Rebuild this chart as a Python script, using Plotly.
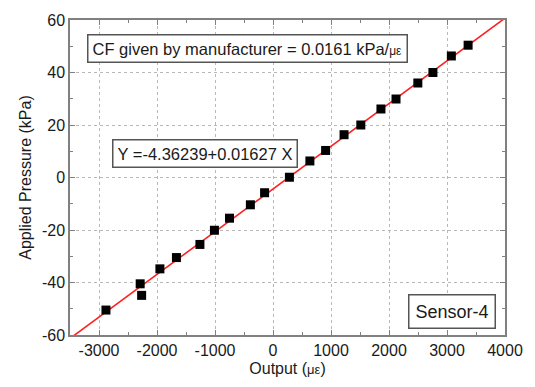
import plotly.graph_objects as go

output_ue = [-2880, -2290, -2265, -1950, -1665, -1260, -1010, -750, -390, -145,
             283, 636, 907, 1225, 1514, 1861, 2121, 2497, 2757, 3075, 3364]
pressure_kpa = [-50.5, -40.5, -44.9, -34.8, -30.5, -25.5, -20.1, -15.5, -10.4, -5.8,
                0.1, 6.3, 10.3, 16.3, 20.0, 26.1, 29.9, 36.0, 40.0, 46.3, 50.4]
fit_intercept = -4.36239
fit_slope = 0.01627
fit_x = [-3500, 4000]
fit_y = [fit_intercept + fit_slope * v for v in fit_x]

x_ticks = [-3000, -2000, -1000, 0, 1000, 2000, 3000, 4000]
x_labels = ["-3000", "-2000", "-1000", "0", "1000", "2000", "3000", "4000"]
y_ticks = [-60, -40, -20, 0, 20, 40, 60]
y_labels = ["-60", "-40", "-20", "0", "20", "40", "60"]

FONT = "Arial, Liberation Sans, sans-serif"
axis_col = "#808080"
txt_col = "#1a1a1a"

fig = go.Figure()
fig.add_trace(go.Scatter(x=fit_x, y=fit_y, mode="lines",
                         line=dict(color="#ff2020", width=1.6), showlegend=False))
fig.add_trace(go.Scatter(x=output_ue, y=pressure_kpa, mode="markers",
                         marker=dict(symbol="square", size=9, color="black"),
                         showlegend=False))

common = dict(showline=True, linecolor=axis_col, linewidth=1.5, mirror="allticks",
              ticks="inside", ticklen=5, tickcolor=axis_col, tickwidth=1.2,
              showgrid=True, gridcolor="#b8b8b8", gridwidth=1, griddash="3px,3px",
              zeroline=False, tickfont=dict(family=FONT, size=16, color=txt_col))

fig.update_xaxes(range=[-3500, 4000], tickvals=x_ticks, ticktext=x_labels,
                 minor=dict(dtick=500, ticks="inside", ticklen=3, tickcolor=axis_col, showgrid=False),
                 title=dict(text='Output (<span style="font-size:13px">με</span>)',
                            font=dict(family=FONT, size=16, color=txt_col), standoff=5),
                 **common)
fig.update_yaxes(range=[-60, 60], tickvals=y_ticks, ticktext=y_labels,
                 minor=dict(dtick=10, ticks="inside", ticklen=3, tickcolor=axis_col, showgrid=False),
                 title=dict(text="Applied Pressure (kPa)",
                            font=dict(family=FONT, size=16, color=txt_col), standoff=6),
                 **common)

box = dict(bordercolor="#555555", borderwidth=1.5, bgcolor="white", showarrow=False,
           xref="paper", yref="paper")
fig.add_annotation(text='CF given by manufacturer = 0.0161 kPa/<span style="font-size:12px">με</span>',
                   x=(87 - 70) / 443, y=1 - (33 - 19) / 316, xanchor="left", yanchor="top",
                   font=dict(family=FONT, size=16.5, color=txt_col), borderpad=4, **box)
fig.add_annotation(text="Y =-4.36239+0.01627 X",
                   x=(113 - 70) / 443, y=1 - (138.5 - 19) / 316, xanchor="left", yanchor="top",
                   font=dict(family=FONT, size=16.5, color=txt_col), borderpad=4, **box)
fig.add_annotation(text="Sensor-4",
                   x=(504 - 70) / 443, y=1 - (329 - 19) / 316, xanchor="right", yanchor="bottom",
                   font=dict(family=FONT, size=18, color=txt_col), borderpad=6, **box)

fig.update_layout(width=535, height=387, margin=dict(l=70, r=22, t=19, b=51),
                  plot_bgcolor="white", paper_bgcolor="white",
                  font=dict(family=FONT))
fig.write_html("out.html")
